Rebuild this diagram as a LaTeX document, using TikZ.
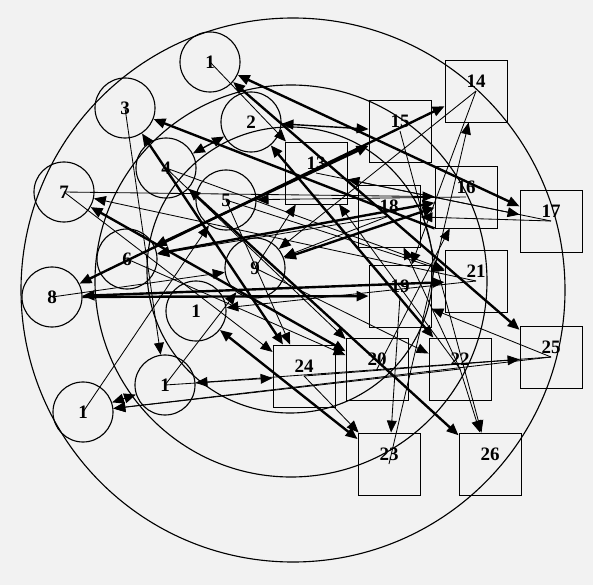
\documentclass[tikz,border=0pt]{standalone}
\usepackage{fontspec}
\setmainfont{Liberation Serif}
\usetikzlibrary{arrows.meta}
\definecolor{paper}{HTML}{F2F2F2}

\begin{document}
\begin{tikzpicture}[x=0.025cm, y=-0.025cm,
  font=\fontsize{13.5}{15}\selectfont\bfseries,
  ring/.style={draw, circle, line width=0.8pt, minimum size=1.5cm, inner sep=0pt},
  box/.style={draw, rectangle, line width=0.6pt, minimum size=1.55cm, inner sep=0pt, text depth=0.5cm},
  ln/.style={line width=0.6pt},
  tk/.style={line width=1.7pt},
  arr/.style={-{Triangle[length=8.5pt,width=7pt]}},
  dbl/.style={{Triangle[length=8.5pt,width=7pt]}-{Triangle[length=8.5pt,width=7pt]}}]
  % page
  \fill[paper] (0,0) rectangle (593,585);
  \useasboundingbox (0,0) rectangle (593,585);

  % the three rings
  \draw[line width=0.8pt] (293,290) circle[radius=272];
  \draw[line width=0.8pt] (291,281) circle[radius=196];
  \draw[line width=0.8pt] (290,270) circle[radius=143];

  % round nodes
  \node[ring] (c1) at (210,62) {1};
  \node[ring] (c2) at (251,122) {2};
  \node[ring] (c3) at (125,108) {3};
  \node[ring] (c4) at (166,168) {4};
  \node[ring] (c5) at (226,200) {5};
  \node[ring] (c6) at (127,259) {6};
  \node[ring] (c7) at (64,192) {7};
  \node[ring] (c8) at (52,297) {8};
  \node[ring] (c9) at (255,268) {9};
  \node[ring] (c10) at (196,311) {1};
  \node[ring] (c11) at (165,385) {1};
  \node[ring] (c12) at (83,412) {1};

  % square nodes
  \node[box] (b13) at (316,173) {13};
  \node[box] (b14) at (476,91) {14};
  \node[box] (b15) at (400,131) {15};
  \node[box] (b16) at (466,197) {16};
  \node[box] (b17) at (551,221) {17};
  \node[box] (b18) at (389,216) {18};
  \node[box] (b19) at (400,296) {19};
  \node[box] (b20) at (377,369) {20};
  \node[box] (b21) at (476,281) {21};
  \node[box] (b22) at (460,369) {22};
  \node[box] (b23) at (389,464) {23};
  \node[box] (b24) at (304,376) {24};
  \node[box] (b25) at (551,357) {25};
  \node[box] (b26) at (490,464) {26};

  % heavy links
  \draw[tk, dbl] (c1) -- (b17);
  \draw[tk, dbl] (c1) -- (b25);
  \draw[tk, arr] (b16.south west) -- (c3);
  \draw[tk, dbl] (c3) -- (b24);
  \draw[tk, dbl] (c7) -- (b20);
  \draw[tk, dbl] (c8) -- (b21);
  \draw[tk, arr] (c8) -- (b19);
  \draw[tk, dbl] (c8) -- (b14);
  \draw[tk, dbl] (c6) -- (b16);
  \draw[tk, dbl] (c6) -- (b15);
  \draw[tk, dbl] (c9) -- (b16);
  \draw[tk, dbl] (c10) -- (b23);
  \draw[tk, dbl] (c2) -- (b22);
  \draw[tk, dbl] (c4) -- (b26);

  % light links, drawn from inside the source node
  \draw[line width=1pt, dbl] (c2) -- (b15);
  \draw[line width=1pt, dbl] (c2) -- (c4);
  \draw[line width=1pt, dbl] (c11) -- (c12);
  \draw[ln, arr] (c1.center) -- (b13);
  \draw[ln, arr] (c3.center) -- (c11);
  \draw[ln, arr] (c7.center) -- (b24);
  \draw[ln, arr] (b21.center) -- (c7);
  \draw[ln, arr] (c7.center) -- (b16);
  \draw[ln, arr] (c8.center) -- (c9);
  \draw[ln, arr] (b25.center) -- (c12);
  \draw[ln, arr] (b22.center) -- (c12);
  \draw[ln, arr] (c12.center) -- (c5);
  \draw[ln, arr] (b25.center) -- (c11);
  \draw[ln, arr] (c11.center) -- (b24);
  \draw[ln, arr] (c11.center) -- (c9);
  \draw[ln, arr] (b24.center) -- (b23);
  \draw[ln, arr] (b19.center) -- (b23);
  \draw[ln, arr] (b22.center) -- (b26);
  \draw[ln, arr] (b23.center) -- (b14);
  \draw[ln, arr] (b14.center) -- (b19);
  \draw[ln, arr] (b14.center) -- (c9);
  \draw[ln, arr] (b15.center) -- (b26);
  \draw[ln, arr] (b13.center) -- (b17);
  \draw[ln, arr] (b17.center) -- (b18);
  \draw[ln, arr] (b17.center) -- (b13);
  \draw[ln, arr] (b20.center) -- (b16);
  \draw[ln, arr] (b22.center) -- (b18);
  \draw[ln, arr] (c4.center) -- (b20);
  \draw[ln, arr] (c6.center) -- (b20);
  \draw[ln, arr] (b25.center) -- (b19);
  \draw[ln, arr] (b24.center) -- (b25);
  \draw[ln, arr] (c9.center) -- (b22);
  \draw[ln, arr] (c5.center) -- (b21);
  \draw[ln, arr] (b18.center) -- (c6);
  \draw[ln, arr] (b22.center) -- (b13);
  \draw[ln, arr] (c9.center) -- (b13);
  \draw[ln, arr] (b16.center) -- (c5);
  \draw[ln, arr] (b18.center) -- (c9);
  \draw[ln, arr] (b21.center) -- (c10);
  \draw[ln, arr] (c5.center) -- (b24);
  \draw[ln, arr] (c4.center) -- (b21);
\end{tikzpicture}
\end{document}
